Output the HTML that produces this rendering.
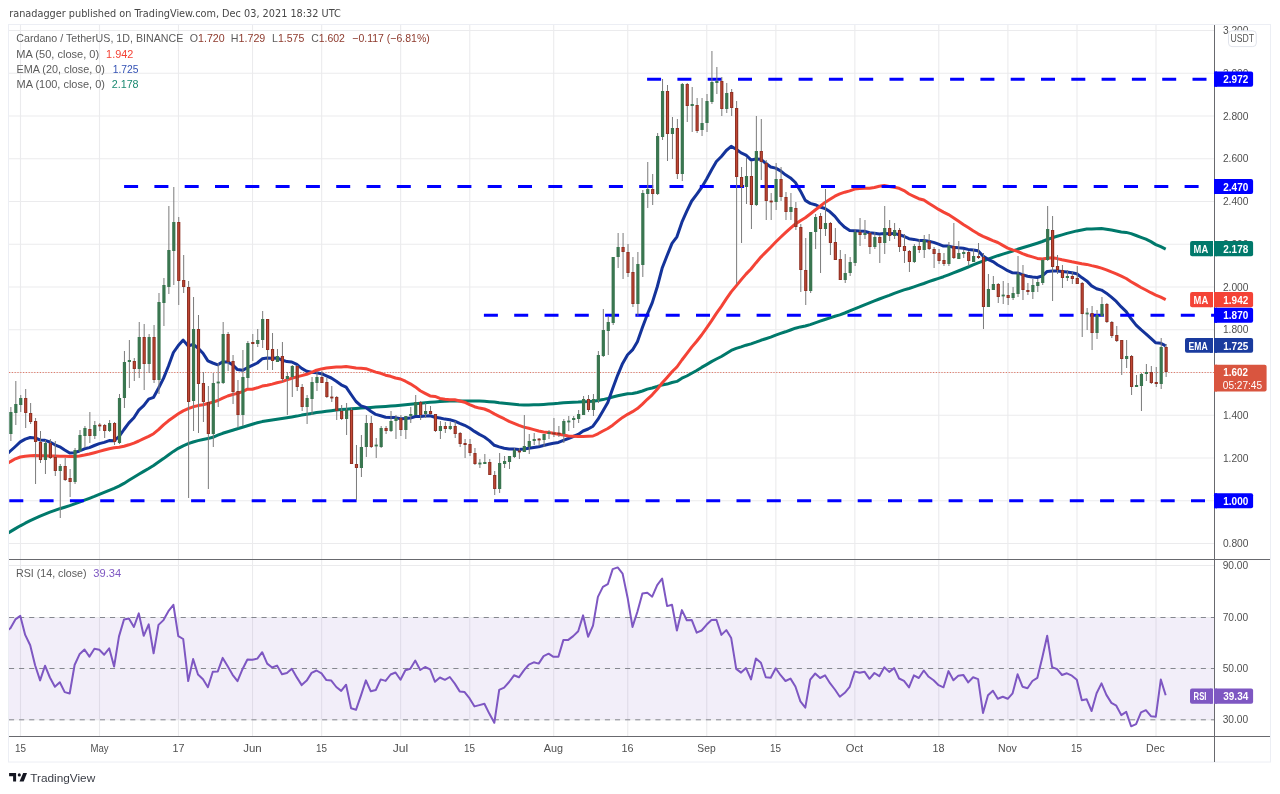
<!DOCTYPE html>
<html><head><meta charset="utf-8"><title>ADA/USDT chart</title>
<style>html,body{margin:0;padding:0;background:#fff}body{width:1280px;height:794px;position:relative;overflow:hidden}</style>
</head><body>
<svg width="1280" height="794" viewBox="0 0 1280 794" style="position:absolute;left:0;top:0;will-change:transform"><defs><clipPath id="cm"><rect x="9" y="25" width="1205" height="534"/></clipPath><clipPath id="cr"><rect x="9" y="560" width="1205" height="176"/></clipPath></defs><rect x="8.5" y="24.5" width="1262" height="737.5" fill="none" stroke="#eceef4" stroke-width="1"/><path d="M20.50,25V559M20.50,560V736M99.50,25V559M99.50,560V736M178.49,25V559M178.49,560V736M252.54,25V559M252.54,560V736M321.66,25V559M321.66,560V736M400.65,25V559M400.65,560V736M469.77,25V559M469.77,560V736M553.70,25V559M553.70,560V736M627.75,25V559M627.75,560V736M706.75,25V559M706.75,560V736M775.87,25V559M775.87,560V736M854.86,25V559M854.86,560V736M938.79,25V559M938.79,560V736M1007.90,25V559M1007.90,560V736M1077.02,25V559M1077.02,560V736M1156.01,25V559M1156.01,560V736M9,30.50H1214M9,73.25H1214M9,116.00H1214M9,158.75H1214M9,201.50H1214M9,244.25H1214M9,287.00H1214M9,329.75H1214M9,372.50H1214M9,415.25H1214M9,458.00H1214M9,500.75H1214M9,543.50H1214M9,565.5H1214" stroke="#ebebed" stroke-width="1.1" fill="none"/><g clip-path="url(#cm)"><path d="M9,372.5H1214" stroke="#e0604a" stroke-opacity="0.8" stroke-width="1" stroke-dasharray="1.2 1.6" fill="none"/><path d="M5.5,534.6 L10.4,531.6 L15.4,528.6 L20.3,525.8 L25.2,523.2 L30.2,520.7 L35.1,518.4 L40.1,516.2 L45.0,514.2 L49.9,512.2 L54.9,510.4 L59.8,508.7 L64.7,507.2 L69.7,505.6 L74.6,503.9 L79.5,502.1 L84.5,500.2 L89.4,498.3 L94.4,496.4 L99.3,494.4 L104.2,492.4 L109.2,490.3 L114.1,488.3 L119.0,486.1 L124.0,483.4 L128.9,480.3 L133.9,477.3 L138.8,474.3 L143.7,471.4 L148.7,468.5 L153.6,465.5 L158.5,462.1 L163.5,458.6 L168.4,455.0 L173.4,451.4 L178.3,448.3 L183.2,445.8 L188.2,443.6 L193.1,442.0 L198.0,440.6 L203.0,439.5 L207.9,438.6 L212.8,437.3 L217.8,435.2 L222.7,433.3 L227.7,431.7 L232.6,430.3 L237.5,428.8 L242.5,427.3 L247.4,425.8 L252.3,424.2 L257.3,422.8 L262.2,421.6 L267.2,420.7 L272.1,419.9 L277.0,419.2 L282.0,418.5 L286.9,417.8 L291.8,417.0 L296.8,416.1 L301.7,415.1 L306.7,414.2 L311.6,413.4 L316.5,412.6 L321.5,411.9 L326.4,411.3 L331.3,410.7 L336.3,410.1 L341.2,409.6 L346.1,409.2 L351.1,408.7 L356.0,408.4 L361.0,408.1 L365.9,407.8 L370.8,407.5 L375.8,407.1 L380.7,406.8 L385.6,406.5 L390.6,406.1 L395.5,405.7 L400.5,405.2 L405.4,404.7 L410.3,404.2 L415.3,403.7 L420.2,403.2 L425.1,402.7 L430.1,402.2 L435.0,401.9 L439.9,401.5 L444.9,401.2 L449.8,401.0 L454.8,401.0 L459.7,401.0 L464.6,401.0 L469.6,401.0 L474.5,401.0 L479.4,401.1 L484.4,401.3 L489.3,401.7 L494.3,402.0 L499.2,402.8 L504.1,403.3 L509.1,403.8 L514.0,404.3 L518.9,404.7 L523.9,404.9 L528.8,404.9 L533.8,404.7 L538.7,404.7 L543.6,404.4 L548.6,404.1 L553.5,403.7 L558.4,403.3 L563.4,402.7 L568.3,402.4 L573.2,402.2 L578.2,402.1 L583.1,401.7 L588.1,401.6 L593.0,401.3 L597.9,400.5 L602.9,399.6 L607.8,398.4 L612.7,397.0 L617.7,395.8 L622.6,394.8 L627.6,393.8 L632.5,393.5 L637.4,392.5 L642.4,391.0 L647.3,389.1 L652.2,388.0 L657.2,386.5 L662.1,384.9 L667.1,384.1 L672.0,382.5 L676.9,381.4 L681.9,378.2 L686.8,376.0 L691.7,373.2 L696.7,370.5 L701.6,367.4 L706.5,364.6 L711.5,361.6 L716.4,359.0 L721.4,356.5 L726.3,353.5 L731.2,350.4 L736.2,348.4 L741.1,346.9 L746.0,345.2 L751.0,343.9 L755.9,342.2 L760.9,340.3 L765.8,338.7 L770.7,337.1 L775.7,335.1 L780.6,333.4 L785.5,331.8 L790.5,330.0 L795.4,328.2 L800.4,326.9 L805.3,326.0 L810.2,324.6 L815.2,322.9 L820.1,321.2 L825.0,319.5 L830.0,317.8 L834.9,316.2 L839.8,314.9 L844.8,313.0 L849.7,310.9 L854.7,308.8 L859.6,306.9 L864.5,304.8 L869.5,302.8 L874.4,300.9 L879.3,299.0 L884.3,297.1 L889.2,295.3 L894.2,293.3 L899.1,291.6 L904.0,289.9 L909.0,288.5 L913.9,286.9 L918.8,285.2 L923.8,283.5 L928.7,281.7 L933.6,280.0 L938.6,278.3 L943.5,276.7 L948.5,274.8 L953.4,272.9 L958.3,271.0 L963.3,269.0 L968.2,267.0 L973.1,264.9 L978.1,262.9 L983.0,261.2 L988.0,259.2 L992.9,257.4 L997.8,255.7 L1002.8,254.1 L1007.7,252.6 L1012.6,251.0 L1017.6,249.3 L1022.5,247.8 L1027.5,246.3 L1032.4,244.8 L1037.3,243.2 L1042.3,241.5 L1047.2,239.5 L1052.1,237.8 L1057.1,236.3 L1062.0,234.9 L1066.9,233.4 L1071.9,232.1 L1076.8,230.9 L1081.8,230.0 L1086.7,229.1 L1091.6,228.9 L1096.6,228.8 L1101.5,228.6 L1106.4,229.2 L1111.4,230.1 L1116.3,231.0 L1121.3,231.9 L1126.2,232.4 L1131.1,233.6 L1136.1,235.5 L1141.0,237.4 L1145.9,239.2 L1150.9,241.6 L1155.8,244.6 L1160.8,246.7 L1165.7,249.1" stroke="#00796b" stroke-width="3" fill="none" stroke-linejoin="round"/><path d="M5.5,455.5 L10.4,451.0 L15.4,446.5 L20.3,441.9 L25.2,439.1 L30.2,437.5 L35.1,437.9 L40.1,440.0 L45.0,440.3 L49.9,442.0 L54.9,444.8 L59.8,446.8 L64.7,450.0 L69.7,453.0 L74.6,452.7 L79.5,451.0 L84.5,448.8 L89.4,447.6 L94.4,445.5 L99.3,443.6 L104.2,442.4 L109.2,440.6 L114.1,440.7 L119.0,436.6 L124.0,429.5 L128.9,422.9 L133.9,417.8 L138.8,410.1 L143.7,405.7 L148.7,399.1 L153.6,397.3 L158.5,388.2 L163.5,378.4 L168.4,366.2 L173.4,352.5 L178.3,345.6 L183.2,340.1 L188.2,346.0 L193.1,344.3 L198.0,348.1 L203.0,353.3 L207.9,360.9 L212.8,363.0 L217.8,364.8 L222.7,361.9 L227.7,361.9 L232.6,364.8 L237.5,369.6 L242.5,370.3 L247.4,367.7 L252.3,365.4 L257.3,363.0 L262.2,358.8 L267.2,358.0 L272.1,358.3 L277.0,358.0 L282.0,360.0 L286.9,361.6 L291.8,362.0 L296.8,364.4 L301.7,368.4 L306.7,371.2 L311.6,372.3 L316.5,372.7 L321.5,373.7 L326.4,375.9 L331.3,378.0 L336.3,381.2 L341.2,384.8 L346.1,387.2 L351.1,394.5 L356.0,401.5 L361.0,405.8 L365.9,407.5 L370.8,411.2 L375.8,414.4 L380.7,415.7 L385.6,417.2 L390.6,417.5 L395.5,417.6 L400.5,418.8 L405.4,418.5 L410.3,418.1 L415.3,416.5 L420.2,416.4 L425.1,415.9 L430.1,415.7 L435.0,417.2 L439.9,418.0 L444.9,419.1 L449.8,419.7 L454.8,421.1 L459.7,423.3 L464.6,425.3 L469.6,428.0 L474.5,431.4 L479.4,434.4 L484.4,437.0 L489.3,440.6 L494.3,445.3 L499.2,446.9 L504.1,448.3 L509.1,449.0 L514.0,449.1 L518.9,449.4 L523.9,449.1 L528.8,448.3 L533.8,447.4 L538.7,446.7 L543.6,445.5 L548.6,444.2 L553.5,443.2 L558.4,442.4 L563.4,440.3 L568.3,438.5 L573.2,436.5 L578.2,434.4 L583.1,431.0 L588.1,429.0 L593.0,426.2 L597.9,419.4 L602.9,410.9 L607.8,402.4 L612.7,388.6 L617.7,375.1 L622.6,363.4 L627.6,354.7 L632.5,349.9 L637.4,341.7 L642.4,327.6 L647.3,314.4 L652.2,302.9 L657.2,287.0 L662.1,268.3 L667.1,255.5 L672.0,243.4 L676.9,236.8 L681.9,222.2 L686.8,211.2 L691.7,201.0 L696.7,194.3 L701.6,187.5 L706.5,179.3 L711.5,170.0 L716.4,161.5 L721.4,156.5 L726.3,150.5 L731.2,146.4 L736.2,149.3 L741.1,152.9 L746.0,155.1 L751.0,159.9 L755.9,159.0 L760.9,159.3 L765.8,163.3 L770.7,167.0 L775.7,168.1 L780.6,170.9 L785.5,174.8 L790.5,177.9 L795.4,182.5 L800.4,190.9 L805.3,200.4 L810.2,203.4 L815.2,204.7 L820.1,207.0 L825.0,208.5 L830.0,211.8 L834.9,216.4 L839.8,222.5 L844.8,227.3 L849.7,230.6 L854.7,230.7 L859.6,231.1 L864.5,231.3 L869.5,232.8 L874.4,233.2 L879.3,234.1 L884.3,233.6 L889.2,233.8 L894.2,233.4 L899.1,234.7 L904.0,236.3 L909.0,238.7 L913.9,239.4 L918.8,240.4 L923.8,240.4 L928.7,241.2 L933.6,242.4 L938.6,244.2 L943.5,246.1 L948.5,246.1 L953.4,247.2 L958.3,247.8 L963.3,248.2 L968.2,249.4 L973.1,250.0 L978.1,250.8 L983.0,256.1 L988.0,259.3 L992.9,261.6 L997.8,265.0 L1002.8,267.8 L1007.7,270.7 L1012.6,272.8 L1017.6,272.9 L1022.5,274.6 L1027.5,276.2 L1032.4,277.1 L1037.3,277.5 L1042.3,275.9 L1047.2,271.4 L1052.1,271.0 L1057.1,270.9 L1062.0,271.6 L1066.9,272.0 L1071.9,272.7 L1076.8,273.7 L1081.8,277.6 L1086.7,280.9 L1091.6,285.9 L1096.6,288.7 L1101.5,290.1 L1106.4,293.2 L1111.4,297.2 L1116.3,301.4 L1121.3,306.9 L1126.2,311.6 L1131.1,318.8 L1136.1,325.1 L1141.0,329.7 L1145.9,333.8 L1150.9,338.4 L1155.8,342.8 L1160.8,343.2 L1165.7,345.9" stroke="#14339a" stroke-width="3" fill="none" stroke-linejoin="round"/><path d="M5.5,464.7 L10.4,461.6 L15.4,458.8 L20.3,457.0 L25.2,456.3 L30.2,455.8 L35.1,455.6 L40.1,455.7 L45.0,455.8 L49.9,456.0 L54.9,456.1 L59.8,456.2 L64.7,456.3 L69.7,456.4 L74.6,456.4 L79.5,455.9 L84.5,455.0 L89.4,454.0 L94.4,452.7 L99.3,451.4 L104.2,450.0 L109.2,448.7 L114.1,447.7 L119.0,447.2 L124.0,446.3 L128.9,444.8 L133.9,443.1 L138.8,441.0 L143.7,438.6 L148.7,436.3 L153.6,433.7 L158.5,429.7 L163.5,424.9 L168.4,420.8 L173.4,417.2 L178.3,413.8 L183.2,410.9 L188.2,408.6 L193.1,406.8 L198.0,405.6 L203.0,404.7 L207.9,403.5 L212.8,402.1 L217.8,400.5 L222.7,398.2 L227.7,396.0 L232.6,394.5 L237.5,393.4 L242.5,391.7 L247.4,389.2 L252.3,389.3 L257.3,387.8 L262.2,386.1 L267.2,385.2 L272.1,384.1 L277.0,382.8 L282.0,381.6 L286.9,379.9 L291.8,378.3 L296.8,376.9 L301.7,375.6 L306.7,374.3 L311.6,372.3 L316.5,370.2 L321.5,368.9 L326.4,368.1 L331.3,367.5 L336.3,367.0 L341.2,366.9 L346.1,366.6 L351.1,367.2 L356.0,368.1 L361.0,368.2 L365.9,368.7 L370.8,370.4 L375.8,372.1 L380.7,373.3 L385.6,375.2 L390.6,376.3 L395.5,378.0 L400.5,379.0 L405.4,381.2 L410.3,383.8 L415.3,386.9 L420.2,390.7 L425.1,393.3 L430.1,395.9 L435.0,396.4 L439.9,398.4 L444.9,399.3 L449.8,399.8 L454.8,399.8 L459.7,401.0 L464.6,402.2 L469.6,404.6 L474.5,406.7 L479.4,408.1 L484.4,409.0 L489.3,411.0 L494.3,413.9 L499.2,416.3 L504.1,418.7 L509.1,421.4 L514.0,423.4 L518.9,425.3 L523.9,427.1 L528.8,428.3 L533.8,429.6 L538.7,431.0 L543.6,432.0 L548.6,432.5 L553.5,433.2 L558.4,434.2 L563.4,435.1 L568.3,435.9 L573.2,436.3 L578.2,436.6 L583.1,436.4 L588.1,436.2 L593.0,436.0 L597.9,433.8 L602.9,431.0 L607.8,428.5 L612.7,425.2 L617.7,421.2 L622.6,417.4 L627.6,414.3 L632.5,411.7 L637.4,408.6 L642.4,404.1 L647.3,399.3 L652.2,394.8 L657.2,389.3 L662.1,383.0 L667.1,377.4 L672.0,371.8 L676.9,367.0 L681.9,360.0 L686.8,353.6 L691.7,347.1 L696.7,341.2 L701.6,335.0 L706.5,328.1 L711.5,320.9 L716.4,313.4 L721.4,306.3 L726.3,298.9 L731.2,291.9 L736.2,285.9 L741.1,279.9 L746.0,274.1 L751.0,269.0 L755.9,262.9 L760.9,257.1 L765.8,252.1 L770.7,247.2 L775.7,242.0 L780.6,237.2 L785.5,232.6 L790.5,228.1 L795.4,224.0 L800.4,220.7 L805.3,217.8 L810.2,214.0 L815.2,210.0 L820.1,206.2 L825.0,202.4 L830.0,199.2 L834.9,196.2 L839.8,193.9 L844.8,192.2 L849.7,190.9 L854.7,189.1 L859.6,188.6 L864.5,188.3 L869.5,188.2 L874.4,187.5 L879.3,186.3 L884.3,185.6 L889.2,186.4 L894.2,187.3 L899.1,188.3 L904.0,190.6 L909.0,194.0 L913.9,196.3 L918.8,198.7 L923.8,200.0 L928.7,203.3 L933.6,206.3 L938.6,209.4 L943.5,212.1 L948.5,214.6 L953.4,217.7 L958.3,221.1 L963.3,224.5 L968.2,227.6 L973.1,230.8 L978.1,233.8 L983.0,236.4 L988.0,238.5 L992.9,240.6 L997.8,242.5 L1002.8,245.4 L1007.7,248.1 L1012.6,249.9 L1017.6,251.4 L1022.5,253.6 L1027.5,255.5 L1032.4,256.9 L1037.3,258.4 L1042.3,259.1 L1047.2,258.3 L1052.1,257.8 L1057.1,258.6 L1062.0,259.8 L1066.9,260.7 L1071.9,261.8 L1076.8,262.7 L1081.8,263.7 L1086.7,264.4 L1091.6,265.6 L1096.6,266.7 L1101.5,268.1 L1106.4,269.8 L1111.4,271.9 L1116.3,273.8 L1121.3,276.2 L1126.2,278.5 L1131.1,281.7 L1136.1,284.6 L1141.0,287.5 L1145.9,290.0 L1150.9,292.7 L1155.8,295.1 L1160.8,297.1 L1165.7,299.6" stroke="#f44336" stroke-width="3" fill="none" stroke-linejoin="round"/><path d="M647.1,79.3H1214" stroke="#0000ff" stroke-width="3" stroke-dasharray="14 16.3" fill="none"/><path d="M124.1,186.6H1214" stroke="#0000ff" stroke-width="3" stroke-dasharray="14 16.3" fill="none"/><path d="M483.9,315.3H1214" stroke="#0000ff" stroke-width="3" stroke-dasharray="14 16.3" fill="none"/><path d="M-21.0,500.8H1214" stroke="#0000ff" stroke-width="3" stroke-dasharray="14 16.3" fill="none"/><path d="M10.88,407.0V441.0M15.82,381.0V425.0M20.75,395.0V412.0M25.69,389.0V428.0M30.63,403.0V424.0M35.57,418.0V484.0M40.50,431.0V463.0M45.44,440.0V474.0M50.38,439.0V459.0M55.31,441.0V476.0M60.25,464.0V518.0M65.19,458.0V481.0M70.12,469.0V497.0M75.06,448.0V484.0M80.00,430.0V452.0M84.94,426.0V448.0M89.87,412.0V443.0M94.81,421.0V439.0M99.75,423.0V431.0M104.68,424.0V438.0M109.62,420.0V432.0M114.56,422.0V445.0M119.49,394.0V444.0M124.43,351.0V408.0M129.37,340.0V388.0M134.31,358.0V381.0M139.24,322.0V378.0M144.18,324.0V390.0M149.12,334.0V373.0M154.05,325.0V383.0M158.99,293.0V394.0M163.93,278.0V326.0M168.86,206.0V294.0M173.80,187.0V285.0M178.74,217.0V305.0M183.68,255.0V293.0M188.61,281.0V498.0M193.55,297.0V431.0M198.49,315.0V433.0M203.42,372.0V422.0M208.36,386.0V489.0M213.30,373.0V447.0M218.23,363.0V407.0M223.17,322.0V384.0M228.11,332.0V371.0M233.05,355.0V404.0M237.98,380.0V428.0M242.92,350.0V426.0M247.86,341.0V388.0M252.79,334.0V361.0M257.73,329.0V347.0M262.67,311.0V348.0M267.60,319.0V370.0M272.54,333.0V370.0M277.48,349.0V362.0M282.42,342.0V382.0M287.35,372.0V415.0M292.29,365.0V397.0M297.23,365.0V391.0M302.16,384.0V411.0M307.10,395.0V424.0M312.04,377.0V415.0M316.97,372.0V391.0M321.91,371.0V383.0M326.85,378.0V398.0M331.79,386.0V402.0M336.72,396.0V420.0M341.66,405.0V420.0M346.60,403.0V435.0M351.53,407.0V464.0M356.47,445.0V500.0M361.41,435.0V477.0M366.34,415.0V457.0M371.28,416.0V448.0M376.22,438.0V458.0M381.16,426.0V448.0M386.09,426.0V434.0M391.03,411.0V432.0M395.97,415.0V439.0M400.90,415.0V436.0M405.84,416.0V439.0M410.78,407.0V423.0M415.71,395.0V415.0M420.65,401.0V420.0M425.59,403.0V418.0M430.53,406.0V415.0M435.46,414.0V432.0M440.40,421.0V439.0M445.34,422.0V433.0M450.27,422.0V430.0M455.21,421.0V438.0M460.15,432.0V447.0M465.08,439.0V458.0M470.02,439.0V456.0M474.96,448.0V465.0M479.90,459.0V468.0M484.83,454.0V464.0M489.77,459.0V475.0M494.71,471.0V495.0M499.64,453.0V493.0M504.58,456.0V468.0M509.52,456.0V469.0M514.45,448.0V458.0M519.39,448.0V459.0M524.33,415.0V452.0M529.26,434.0V454.0M534.20,433.0V445.0M539.14,438.0V446.0M544.08,434.0V447.0M549.01,430.0V439.0M553.95,418.0V437.0M558.89,426.0V437.0M563.82,419.0V443.0M568.76,416.0V431.0M573.70,416.0V428.0M578.63,410.0V423.0M583.57,396.0V415.0M588.51,395.0V412.0M593.45,394.0V416.0M598.38,351.0V403.0M603.32,309.0V357.0M608.26,316.0V355.0M613.19,257.0V325.0M618.13,233.0V268.0M623.07,233.0V279.0M628.00,244.0V277.0M632.94,257.0V307.0M637.88,252.0V316.0M642.82,190.0V277.0M647.75,162.0V208.0M652.69,174.0V205.0M657.63,133.0V195.0M662.56,79.0V140.0M667.50,85.0V161.0M672.44,117.0V159.0M677.38,119.0V179.0M682.31,83.0V181.0M687.25,83.0V122.0M692.19,87.0V132.0M697.12,98.0V133.0M702.06,98.0V136.0M707.00,94.0V132.0M711.93,51.0V104.0M716.87,67.0V94.0M721.81,77.0V116.0M726.75,83.0V113.0M731.68,89.0V116.0M736.62,101.0V284.0M741.56,167.0V243.0M746.49,158.0V204.0M751.43,161.0V229.0M756.37,116.0V206.0M761.30,119.0V180.0M766.24,160.0V220.0M771.18,193.0V220.0M776.12,163.0V210.0M781.05,167.0V201.0M785.99,192.0V220.0M790.93,193.0V220.0M795.86,202.0V230.0M800.80,224.0V292.0M805.74,238.0V305.0M810.67,232.0V293.0M815.61,214.0V249.0M820.55,213.0V273.0M825.49,189.0V236.0M830.42,222.0V255.0M835.36,228.0V260.0M840.30,250.0V280.0M845.23,254.0V283.0M850.17,257.0V276.0M855.11,229.0V266.0M860.04,218.0V246.0M864.98,220.0V239.0M869.92,232.0V254.0M874.86,232.0V249.0M879.79,235.0V263.0M884.73,206.0V254.0M889.67,220.0V241.0M894.60,223.0V239.0M899.54,228.0V252.0M904.48,234.0V263.0M909.41,250.0V272.0M914.35,244.0V263.0M919.29,239.0V253.0M924.23,235.0V258.0M929.16,234.0V250.0M934.10,247.0V268.0M939.04,249.0V264.0M943.97,253.0V266.0M948.91,242.0V266.0M953.85,223.0V259.0M958.78,241.0V259.0M963.72,250.0V258.0M968.66,251.0V266.0M973.60,249.0V262.0M978.53,243.0V259.0M983.47,253.0V329.0M988.41,274.0V307.0M993.34,276.0V290.0M998.28,283.0V303.0M1003.22,281.0V304.0M1008.15,283.0V305.0M1013.09,287.0V300.0M1018.03,256.0V297.0M1022.97,265.0V300.0M1027.90,283.0V295.0M1032.84,279.0V299.0M1037.78,279.0V292.0M1042.71,258.0V285.0M1047.65,206.0V261.0M1052.59,216.0V301.0M1057.52,255.0V274.0M1062.46,265.0V288.0M1067.40,270.0V281.0M1072.34,272.0V284.0M1077.27,266.0V284.0M1082.21,282.0V337.0M1087.15,308.0V330.0M1092.08,306.0V350.0M1097.02,310.0V339.0M1101.96,297.0V317.0M1106.89,303.0V323.0M1111.83,321.0V338.0M1116.77,326.0V342.0M1121.71,340.0V375.0M1126.64,340.0V368.0M1131.58,355.0V395.0M1136.52,375.0V387.0M1141.45,373.0V411.0M1146.39,364.0V381.0M1151.33,366.0V384.0M1156.26,367.0V387.0M1161.20,338.0V389.0M1166.14,344.0V377.0" stroke="#7b7b7b" stroke-width="1" fill="none"/><g fill="#3a7650"><rect x="9.28" y="412.0" width="3.2" height="22.0"/><rect x="14.22" y="404.0" width="3.2" height="9.0"/><rect x="19.15" y="398.0" width="3.2" height="7.0"/><rect x="43.84" y="443.0" width="3.2" height="17.0"/><rect x="58.65" y="466.0" width="3.2" height="5.0"/><rect x="73.46" y="450.0" width="3.2" height="32.0"/><rect x="78.40" y="435.0" width="3.2" height="16.0"/><rect x="83.34" y="428.0" width="3.2" height="8.0"/><rect x="93.21" y="425.0" width="3.2" height="11.0"/><rect x="108.02" y="423.0" width="3.2" height="8.0"/><rect x="117.89" y="398.0" width="3.2" height="45.0"/><rect x="122.83" y="362.0" width="3.2" height="36.0"/><rect x="127.77" y="360.0" width="3.2" height="2.0"/><rect x="137.64" y="337.0" width="3.2" height="32.0"/><rect x="147.52" y="337.0" width="3.2" height="27.0"/><rect x="157.39" y="302.0" width="3.2" height="78.0"/><rect x="162.33" y="285.0" width="3.2" height="18.0"/><rect x="167.26" y="250.0" width="3.2" height="37.0"/><rect x="172.20" y="222.0" width="3.2" height="29.0"/><rect x="191.95" y="329.0" width="3.2" height="72.0"/><rect x="211.70" y="383.0" width="3.2" height="51.0"/><rect x="216.63" y="381.6" width="3.2" height="1.8"/><rect x="221.57" y="334.0" width="3.2" height="49.0"/><rect x="241.32" y="377.0" width="3.2" height="38.0"/><rect x="246.26" y="343.0" width="3.2" height="35.0"/><rect x="256.13" y="340.0" width="3.2" height="4.0"/><rect x="261.07" y="319.0" width="3.2" height="21.0"/><rect x="275.88" y="356.0" width="3.2" height="6.0"/><rect x="285.75" y="376.0" width="3.2" height="3.0"/><rect x="290.69" y="366.0" width="3.2" height="11.0"/><rect x="305.50" y="398.0" width="3.2" height="9.0"/><rect x="310.44" y="382.0" width="3.2" height="17.0"/><rect x="315.37" y="377.0" width="3.2" height="6.0"/><rect x="345.00" y="410.0" width="3.2" height="9.0"/><rect x="359.81" y="447.0" width="3.2" height="21.0"/><rect x="364.74" y="423.0" width="3.2" height="24.0"/><rect x="374.62" y="444.6" width="3.2" height="1.8"/><rect x="379.56" y="428.0" width="3.2" height="19.0"/><rect x="389.43" y="421.0" width="3.2" height="10.0"/><rect x="394.37" y="418.0" width="3.2" height="3.0"/><rect x="404.24" y="416.0" width="3.2" height="14.0"/><rect x="409.18" y="414.0" width="3.2" height="2.0"/><rect x="414.11" y="402.0" width="3.2" height="13.0"/><rect x="423.99" y="411.0" width="3.2" height="3.0"/><rect x="438.80" y="426.0" width="3.2" height="5.0"/><rect x="448.67" y="426.0" width="3.2" height="3.0"/><rect x="478.30" y="462.6" width="3.2" height="1.8"/><rect x="483.23" y="462.0" width="3.2" height="2.0"/><rect x="498.04" y="463.0" width="3.2" height="26.0"/><rect x="502.98" y="461.0" width="3.2" height="3.0"/><rect x="507.92" y="456.0" width="3.2" height="6.0"/><rect x="512.85" y="450.0" width="3.2" height="7.0"/><rect x="522.73" y="446.0" width="3.2" height="6.0"/><rect x="527.66" y="441.0" width="3.2" height="6.0"/><rect x="532.60" y="439.0" width="3.2" height="2.0"/><rect x="542.48" y="434.0" width="3.2" height="6.0"/><rect x="547.41" y="432.0" width="3.2" height="2.0"/><rect x="562.22" y="421.0" width="3.2" height="13.0"/><rect x="567.16" y="420.6" width="3.2" height="1.8"/><rect x="572.10" y="418.0" width="3.2" height="2.0"/><rect x="577.03" y="414.0" width="3.2" height="5.0"/><rect x="581.97" y="399.0" width="3.2" height="16.0"/><rect x="591.85" y="399.0" width="3.2" height="11.0"/><rect x="596.78" y="355.0" width="3.2" height="45.0"/><rect x="601.72" y="330.0" width="3.2" height="26.0"/><rect x="606.66" y="322.0" width="3.2" height="9.0"/><rect x="611.59" y="257.0" width="3.2" height="66.0"/><rect x="616.53" y="247.0" width="3.2" height="10.0"/><rect x="636.28" y="264.0" width="3.2" height="40.0"/><rect x="641.22" y="193.0" width="3.2" height="72.0"/><rect x="646.15" y="189.0" width="3.2" height="5.0"/><rect x="656.03" y="136.0" width="3.2" height="58.0"/><rect x="660.96" y="91.0" width="3.2" height="46.0"/><rect x="670.84" y="128.0" width="3.2" height="6.0"/><rect x="680.71" y="84.0" width="3.2" height="90.0"/><rect x="690.59" y="104.0" width="3.2" height="2.0"/><rect x="700.46" y="123.0" width="3.2" height="7.0"/><rect x="705.40" y="101.0" width="3.2" height="22.0"/><rect x="710.33" y="82.0" width="3.2" height="20.0"/><rect x="715.27" y="81.0" width="3.2" height="2.0"/><rect x="725.14" y="93.0" width="3.2" height="16.0"/><rect x="744.89" y="176.0" width="3.2" height="11.0"/><rect x="754.77" y="151.0" width="3.2" height="54.0"/><rect x="774.51" y="179.0" width="3.2" height="23.0"/><rect x="789.33" y="207.0" width="3.2" height="5.0"/><rect x="809.07" y="232.0" width="3.2" height="59.0"/><rect x="814.01" y="217.0" width="3.2" height="15.0"/><rect x="823.88" y="223.0" width="3.2" height="6.0"/><rect x="843.63" y="273.0" width="3.2" height="7.0"/><rect x="848.57" y="262.0" width="3.2" height="11.0"/><rect x="853.51" y="232.0" width="3.2" height="31.0"/><rect x="863.38" y="233.0" width="3.2" height="2.0"/><rect x="873.25" y="237.0" width="3.2" height="10.0"/><rect x="883.13" y="228.0" width="3.2" height="15.0"/><rect x="893.00" y="230.0" width="3.2" height="6.0"/><rect x="912.75" y="246.0" width="3.2" height="16.0"/><rect x="922.62" y="240.0" width="3.2" height="10.0"/><rect x="947.31" y="246.0" width="3.2" height="18.0"/><rect x="957.18" y="253.0" width="3.2" height="6.0"/><rect x="962.12" y="252.0" width="3.2" height="2.0"/><rect x="972.00" y="256.0" width="3.2" height="6.0"/><rect x="986.81" y="289.0" width="3.2" height="18.0"/><rect x="991.74" y="284.0" width="3.2" height="6.0"/><rect x="1001.62" y="294.6" width="3.2" height="1.8"/><rect x="1011.49" y="293.0" width="3.2" height="5.0"/><rect x="1016.43" y="274.0" width="3.2" height="20.0"/><rect x="1031.24" y="285.0" width="3.2" height="7.0"/><rect x="1036.18" y="282.0" width="3.2" height="4.0"/><rect x="1041.11" y="260.0" width="3.2" height="23.0"/><rect x="1046.05" y="229.0" width="3.2" height="31.0"/><rect x="1065.80" y="276.0" width="3.2" height="2.0"/><rect x="1085.55" y="312.6" width="3.2" height="1.8"/><rect x="1095.42" y="315.0" width="3.2" height="18.0"/><rect x="1100.36" y="304.0" width="3.2" height="12.0"/><rect x="1125.04" y="356.0" width="3.2" height="3.0"/><rect x="1134.92" y="385.0" width="3.2" height="2.0"/><rect x="1139.85" y="374.0" width="3.2" height="12.0"/><rect x="1144.79" y="372.0" width="3.2" height="2.0"/><rect x="1159.60" y="347.0" width="3.2" height="37.0"/></g><g fill="#8e2f22"><rect x="24.09" y="398.0" width="3.2" height="15.0"/><rect x="29.03" y="413.0" width="3.2" height="9.0"/><rect x="33.97" y="421.0" width="3.2" height="21.0"/><rect x="38.90" y="442.0" width="3.2" height="18.0"/><rect x="48.78" y="443.0" width="3.2" height="15.0"/><rect x="53.71" y="457.0" width="3.2" height="14.0"/><rect x="63.59" y="466.0" width="3.2" height="14.0"/><rect x="68.52" y="478.0" width="3.2" height="4.0"/><rect x="88.27" y="429.0" width="3.2" height="7.0"/><rect x="98.15" y="424.6" width="3.2" height="1.8"/><rect x="103.08" y="425.0" width="3.2" height="6.0"/><rect x="112.96" y="423.0" width="3.2" height="19.0"/><rect x="132.71" y="361.0" width="3.2" height="8.0"/><rect x="142.58" y="337.0" width="3.2" height="27.0"/><rect x="152.45" y="337.0" width="3.2" height="43.0"/><rect x="177.14" y="222.0" width="3.2" height="59.0"/><rect x="182.08" y="280.0" width="3.2" height="7.0"/><rect x="187.01" y="287.0" width="3.2" height="115.0"/><rect x="196.89" y="329.0" width="3.2" height="55.0"/><rect x="201.82" y="383.0" width="3.2" height="19.0"/><rect x="206.76" y="402.0" width="3.2" height="32.0"/><rect x="226.51" y="334.0" width="3.2" height="28.0"/><rect x="231.45" y="361.0" width="3.2" height="31.0"/><rect x="236.38" y="391.0" width="3.2" height="24.0"/><rect x="251.19" y="342.0" width="3.2" height="2.0"/><rect x="266.00" y="319.0" width="3.2" height="31.0"/><rect x="270.94" y="349.0" width="3.2" height="12.0"/><rect x="280.81" y="356.0" width="3.2" height="23.0"/><rect x="295.63" y="366.0" width="3.2" height="21.0"/><rect x="300.56" y="387.0" width="3.2" height="20.0"/><rect x="320.31" y="377.0" width="3.2" height="6.0"/><rect x="325.25" y="382.0" width="3.2" height="15.0"/><rect x="330.19" y="396.6" width="3.2" height="1.8"/><rect x="335.12" y="397.0" width="3.2" height="14.0"/><rect x="340.06" y="411.0" width="3.2" height="8.0"/><rect x="349.93" y="410.0" width="3.2" height="54.0"/><rect x="354.87" y="464.0" width="3.2" height="4.0"/><rect x="369.68" y="423.0" width="3.2" height="24.0"/><rect x="384.49" y="428.0" width="3.2" height="3.0"/><rect x="399.30" y="418.0" width="3.2" height="12.0"/><rect x="419.05" y="402.0" width="3.2" height="13.0"/><rect x="428.93" y="411.0" width="3.2" height="3.0"/><rect x="433.86" y="414.0" width="3.2" height="17.0"/><rect x="443.74" y="426.0" width="3.2" height="3.0"/><rect x="453.61" y="426.0" width="3.2" height="8.0"/><rect x="458.55" y="433.0" width="3.2" height="11.0"/><rect x="463.48" y="443.0" width="3.2" height="2.0"/><rect x="468.42" y="444.0" width="3.2" height="9.0"/><rect x="473.36" y="453.0" width="3.2" height="11.0"/><rect x="488.17" y="462.0" width="3.2" height="13.0"/><rect x="493.11" y="475.0" width="3.2" height="14.0"/><rect x="517.79" y="450.6" width="3.2" height="1.8"/><rect x="537.54" y="438.6" width="3.2" height="1.8"/><rect x="552.35" y="432.6" width="3.2" height="1.8"/><rect x="557.29" y="432.6" width="3.2" height="1.8"/><rect x="586.91" y="399.0" width="3.2" height="11.0"/><rect x="621.47" y="247.0" width="3.2" height="5.0"/><rect x="626.40" y="252.0" width="3.2" height="21.0"/><rect x="631.34" y="272.0" width="3.2" height="32.0"/><rect x="651.09" y="189.0" width="3.2" height="5.0"/><rect x="665.90" y="91.0" width="3.2" height="43.0"/><rect x="675.77" y="128.0" width="3.2" height="46.0"/><rect x="685.65" y="84.0" width="3.2" height="22.0"/><rect x="695.52" y="105.0" width="3.2" height="26.0"/><rect x="720.21" y="81.0" width="3.2" height="28.0"/><rect x="730.08" y="92.0" width="3.2" height="16.0"/><rect x="735.02" y="108.0" width="3.2" height="69.0"/><rect x="739.96" y="177.0" width="3.2" height="10.0"/><rect x="749.83" y="176.0" width="3.2" height="29.0"/><rect x="759.70" y="151.0" width="3.2" height="11.0"/><rect x="764.64" y="163.0" width="3.2" height="38.0"/><rect x="769.58" y="200.6" width="3.2" height="1.8"/><rect x="779.45" y="179.0" width="3.2" height="18.0"/><rect x="784.39" y="197.0" width="3.2" height="15.0"/><rect x="794.26" y="208.0" width="3.2" height="19.0"/><rect x="799.20" y="227.0" width="3.2" height="43.0"/><rect x="804.14" y="270.0" width="3.2" height="21.0"/><rect x="818.95" y="216.0" width="3.2" height="13.0"/><rect x="828.82" y="223.0" width="3.2" height="20.0"/><rect x="833.76" y="242.0" width="3.2" height="18.0"/><rect x="838.70" y="259.0" width="3.2" height="21.0"/><rect x="858.44" y="232.0" width="3.2" height="3.0"/><rect x="868.32" y="233.0" width="3.2" height="14.0"/><rect x="878.19" y="237.0" width="3.2" height="6.0"/><rect x="888.07" y="228.0" width="3.2" height="8.0"/><rect x="897.94" y="230.0" width="3.2" height="17.0"/><rect x="902.88" y="246.0" width="3.2" height="5.0"/><rect x="907.81" y="251.0" width="3.2" height="11.0"/><rect x="917.69" y="246.0" width="3.2" height="4.0"/><rect x="927.56" y="241.0" width="3.2" height="8.0"/><rect x="932.50" y="249.0" width="3.2" height="5.0"/><rect x="937.44" y="253.0" width="3.2" height="8.0"/><rect x="942.37" y="260.0" width="3.2" height="4.0"/><rect x="952.25" y="246.0" width="3.2" height="12.0"/><rect x="967.06" y="252.0" width="3.2" height="9.0"/><rect x="976.93" y="256.0" width="3.2" height="2.0"/><rect x="981.87" y="257.0" width="3.2" height="50.0"/><rect x="996.68" y="284.0" width="3.2" height="13.0"/><rect x="1006.55" y="295.0" width="3.2" height="3.0"/><rect x="1021.37" y="274.0" width="3.2" height="16.0"/><rect x="1026.30" y="290.0" width="3.2" height="2.0"/><rect x="1050.99" y="230.0" width="3.2" height="37.0"/><rect x="1055.92" y="266.0" width="3.2" height="4.0"/><rect x="1060.86" y="270.0" width="3.2" height="8.0"/><rect x="1070.74" y="276.0" width="3.2" height="3.0"/><rect x="1075.67" y="278.0" width="3.2" height="6.0"/><rect x="1080.61" y="283.0" width="3.2" height="31.0"/><rect x="1090.48" y="313.0" width="3.2" height="20.0"/><rect x="1105.29" y="304.0" width="3.2" height="18.0"/><rect x="1110.23" y="322.0" width="3.2" height="14.0"/><rect x="1115.17" y="335.0" width="3.2" height="6.0"/><rect x="1120.11" y="340.0" width="3.2" height="19.0"/><rect x="1129.98" y="356.0" width="3.2" height="31.0"/><rect x="1149.73" y="372.0" width="3.2" height="11.0"/><rect x="1154.66" y="382.0" width="3.2" height="2.0"/><rect x="1164.54" y="347.0" width="3.2" height="25.0"/></g><path d="M25.69,398.8V412.2M30.63,413.8V421.2M35.57,421.8V441.2M40.50,442.8V459.2M50.38,443.8V457.2M55.31,457.8V470.2M65.19,466.8V479.2M70.12,478.8V481.2M89.87,429.8V435.2M104.68,425.8V430.2M114.56,423.8V441.2M134.31,361.8V368.2M144.18,337.8V363.2M154.05,337.8V379.2M178.74,222.8V280.2M183.68,280.8V286.2M188.61,287.8V401.2M198.49,329.8V383.2M203.42,383.8V401.2M208.36,402.8V433.2M228.11,334.8V361.2M233.05,361.8V391.2M237.98,391.8V414.2M267.60,319.8V349.2M272.54,349.8V360.2M282.42,356.8V378.2M297.23,366.8V386.2M302.16,387.8V406.2M321.91,377.8V382.2M326.85,382.8V396.2M336.72,397.8V410.2M341.66,411.8V418.2M351.53,410.8V463.2M356.47,464.8V467.2M371.28,423.8V446.2M386.09,428.8V430.2M400.90,418.8V429.2M420.65,402.8V414.2M430.53,411.8V413.2M435.46,414.8V430.2M445.34,426.8V428.2M455.21,426.8V433.2M460.15,433.8V443.2M470.02,444.8V452.2M474.96,453.8V463.2M489.77,462.8V474.2M494.71,475.8V488.2M588.51,399.8V409.2M623.07,247.8V251.2M628.00,252.8V272.2M632.94,272.8V303.2M652.69,189.8V193.2M667.50,91.8V133.2M677.38,128.8V173.2M687.25,84.8V105.2M697.12,105.8V130.2M721.81,81.8V108.2M731.68,92.8V107.2M736.62,108.8V176.2M741.56,177.8V186.2M751.43,176.8V204.2M761.30,151.8V161.2M766.24,163.8V200.2M781.05,179.8V196.2M785.99,197.8V211.2M795.86,208.8V226.2M800.80,227.8V269.2M805.74,270.8V290.2M820.55,216.8V228.2M830.42,223.8V242.2M835.36,242.8V259.2M840.30,259.8V279.2M860.04,232.8V234.2M869.92,233.8V246.2M879.79,237.8V242.2M889.67,228.8V235.2M899.54,230.8V246.2M904.48,246.8V250.2M909.41,251.8V261.2M919.29,246.8V249.2M929.16,241.8V248.2M934.10,249.8V253.2M939.04,253.8V260.2M943.97,260.8V263.2M953.85,246.8V257.2M968.66,252.8V260.2M983.47,257.8V306.2M998.28,284.8V296.2M1008.15,295.8V297.2M1022.97,274.8V289.2M1052.59,230.8V266.2M1057.52,266.8V269.2M1062.46,270.8V277.2M1072.34,276.8V278.2M1077.27,278.8V283.2M1082.21,283.8V313.2M1092.08,313.8V332.2M1106.89,304.8V321.2M1111.83,322.8V335.2M1116.77,335.8V340.2M1121.71,340.8V358.2M1131.58,356.8V386.2M1151.33,372.8V382.2M1166.14,347.8V371.2" stroke="#c54a36" stroke-width="1" fill="none"/></g><g clip-path="url(#cr)"><rect x="9" y="617.5" width="1205" height="102.3" fill="#7e57c2" fill-opacity="0.1"/><path d="M9,617.5H1214" stroke="#ebebee" stroke-width="1" fill="none"/><path d="M9,617.5H1214" stroke="#85878f" stroke-width="1" stroke-dasharray="5.1 5" fill="none"/><path d="M9,668.5H1214" stroke="#ebebee" stroke-width="1" fill="none"/><path d="M9,668.5H1214" stroke="#85878f" stroke-width="1" stroke-dasharray="5.1 5" fill="none"/><path d="M9,719.8H1214" stroke="#ebebee" stroke-width="1" fill="none"/><path d="M9,719.8H1214" stroke="#85878f" stroke-width="1" stroke-dasharray="5.1 5" fill="none"/><path d="M5.5,632.0 L10.4,628.3 L15.4,619.4 L20.3,615.9 L25.2,634.9 L30.2,645.2 L35.1,665.3 L40.1,680.4 L45.0,665.7 L49.9,677.5 L54.9,686.8 L59.8,682.2 L64.7,692.1 L69.7,693.5 L74.6,665.0 L79.5,654.3 L84.5,649.5 L89.4,656.6 L94.4,648.7 L99.3,649.7 L104.2,654.7 L109.2,648.3 L114.1,666.6 L119.0,636.4 L124.0,619.5 L128.9,618.6 L133.9,627.0 L138.8,613.4 L143.7,635.8 L148.7,624.4 L153.6,653.3 L158.5,624.9 L163.5,620.1 L168.4,611.2 L173.4,604.9 L178.3,636.2 L183.2,639.0 L188.2,681.1 L193.1,659.1 L198.0,674.5 L203.0,679.2 L207.9,687.2 L212.8,671.7 L217.8,671.4 L222.7,657.9 L227.7,666.3 L232.6,674.8 L237.5,681.1 L242.5,669.2 L247.4,659.5 L252.3,659.8 L257.3,658.6 L262.2,652.2 L267.2,663.6 L272.1,667.5 L277.0,665.6 L282.0,674.2 L286.9,673.0 L291.8,668.8 L296.8,677.4 L301.7,685.1 L306.7,680.6 L311.6,672.9 L316.5,670.5 L321.5,673.4 L326.4,680.1 L331.3,680.6 L336.3,687.0 L341.2,690.9 L346.1,684.7 L351.1,708.3 L356.0,709.8 L361.0,695.3 L365.9,680.4 L370.8,691.3 L375.8,690.0 L380.7,679.4 L385.6,680.9 L390.6,674.5 L395.5,672.5 L400.5,679.8 L405.4,670.2 L410.3,668.8 L415.3,660.6 L420.2,670.0 L425.1,667.0 L430.1,669.3 L435.0,681.8 L439.9,677.5 L444.9,679.8 L449.8,677.0 L454.8,683.6 L459.7,691.4 L464.6,692.1 L469.6,698.4 L474.5,706.4 L479.4,705.1 L484.4,703.7 L489.3,713.6 L494.3,722.8 L499.2,689.9 L504.1,687.7 L509.1,682.0 L514.0,675.3 L518.9,677.3 L523.9,670.3 L528.8,664.6 L533.8,662.3 L538.7,663.6 L543.6,656.1 L548.6,653.7 L553.5,656.8 L558.4,656.8 L563.4,639.9 L568.3,639.9 L573.2,636.1 L578.2,631.2 L583.1,615.4 L588.1,636.8 L593.0,625.7 L597.9,596.9 L602.9,586.9 L607.8,584.2 L612.7,569.1 L617.7,567.4 L622.6,573.6 L627.6,597.7 L632.5,626.9 L637.4,611.8 L642.4,593.6 L647.3,592.8 L652.2,596.7 L657.2,585.2 L662.1,578.5 L667.1,606.1 L672.0,604.8 L676.9,630.5 L681.9,610.1 L686.8,620.3 L691.7,619.9 L696.7,632.7 L701.6,630.5 L706.5,624.8 L711.5,620.0 L716.4,619.7 L721.4,634.9 L726.3,630.1 L731.2,638.1 L736.2,668.9 L741.1,672.6 L746.0,668.1 L751.0,679.4 L755.9,658.4 L760.9,662.8 L765.8,677.3 L770.7,677.7 L775.7,668.2 L780.6,675.2 L785.5,681.0 L790.5,678.6 L795.4,686.5 L800.4,701.4 L805.3,707.7 L810.2,679.7 L815.2,673.5 L820.1,678.0 L825.0,675.3 L830.0,683.2 L834.9,689.5 L839.8,696.7 L844.8,692.8 L849.7,686.8 L854.7,671.4 L859.6,672.8 L864.5,671.7 L869.5,678.8 L874.4,673.0 L879.3,676.2 L884.3,667.2 L889.2,671.9 L894.2,668.1 L899.1,678.5 L904.0,680.9 L909.0,687.4 L913.9,675.4 L918.8,678.0 L923.8,670.5 L928.7,676.8 L933.6,680.3 L938.6,685.2 L943.5,687.3 L948.5,671.1 L953.4,680.3 L958.3,675.8 L963.3,674.9 L968.2,682.4 L973.1,677.3 L978.1,679.1 L983.0,712.9 L988.0,695.3 L992.9,690.7 L997.8,698.8 L1002.8,696.8 L1007.7,698.8 L1012.6,693.3 L1017.6,674.3 L1022.5,686.7 L1027.5,688.2 L1032.4,681.0 L1037.3,677.9 L1042.3,657.5 L1047.2,635.8 L1052.1,667.1 L1057.1,669.2 L1062.0,675.0 L1066.9,673.3 L1071.9,675.7 L1076.8,679.7 L1081.8,700.3 L1086.7,699.3 L1091.6,711.0 L1096.6,693.2 L1101.5,683.4 L1106.4,694.9 L1111.4,702.9 L1116.3,705.7 L1121.3,715.1 L1126.2,711.9 L1131.1,726.3 L1136.1,724.1 L1141.0,712.4 L1145.9,710.2 L1150.9,716.2 L1155.8,716.7 L1160.8,679.6 L1165.7,695.2" stroke="#7e57c2" stroke-width="2" fill="none" stroke-linejoin="round"/></g><path d="M1214.5,25V762M9,559.5H1270M9,736.5H1270" stroke="#68696e" stroke-width="1" fill="none"/><text x="1222.90" y="34.10" font-size="10.5" fill="#505050" font-weight="normal" textLength="25.60" lengthAdjust="spacingAndGlyphs" font-family="Liberation Sans, sans-serif" style="font-stretch:condensed;" >3.200</text><text x="1222.90" y="76.85" font-size="10.5" fill="#505050" font-weight="normal" textLength="25.60" lengthAdjust="spacingAndGlyphs" font-family="Liberation Sans, sans-serif" style="font-stretch:condensed;" >3.000</text><text x="1222.90" y="119.60" font-size="10.5" fill="#505050" font-weight="normal" textLength="25.60" lengthAdjust="spacingAndGlyphs" font-family="Liberation Sans, sans-serif" style="font-stretch:condensed;" >2.800</text><text x="1222.90" y="162.35" font-size="10.5" fill="#505050" font-weight="normal" textLength="25.60" lengthAdjust="spacingAndGlyphs" font-family="Liberation Sans, sans-serif" style="font-stretch:condensed;" >2.600</text><text x="1222.90" y="205.10" font-size="10.5" fill="#505050" font-weight="normal" textLength="25.60" lengthAdjust="spacingAndGlyphs" font-family="Liberation Sans, sans-serif" style="font-stretch:condensed;" >2.400</text><text x="1222.90" y="247.85" font-size="10.5" fill="#505050" font-weight="normal" textLength="25.60" lengthAdjust="spacingAndGlyphs" font-family="Liberation Sans, sans-serif" style="font-stretch:condensed;" >2.200</text><text x="1222.90" y="290.60" font-size="10.5" fill="#505050" font-weight="normal" textLength="25.60" lengthAdjust="spacingAndGlyphs" font-family="Liberation Sans, sans-serif" style="font-stretch:condensed;" >2.000</text><text x="1222.90" y="333.35" font-size="10.5" fill="#505050" font-weight="normal" textLength="25.60" lengthAdjust="spacingAndGlyphs" font-family="Liberation Sans, sans-serif" style="font-stretch:condensed;" >1.800</text><text x="1222.90" y="376.10" font-size="10.5" fill="#505050" font-weight="normal" textLength="25.60" lengthAdjust="spacingAndGlyphs" font-family="Liberation Sans, sans-serif" style="font-stretch:condensed;" >1.600</text><text x="1222.90" y="418.85" font-size="10.5" fill="#505050" font-weight="normal" textLength="25.60" lengthAdjust="spacingAndGlyphs" font-family="Liberation Sans, sans-serif" style="font-stretch:condensed;" >1.400</text><text x="1222.90" y="461.60" font-size="10.5" fill="#505050" font-weight="normal" textLength="25.60" lengthAdjust="spacingAndGlyphs" font-family="Liberation Sans, sans-serif" style="font-stretch:condensed;" >1.200</text><text x="1222.90" y="504.35" font-size="10.5" fill="#505050" font-weight="normal" textLength="25.60" lengthAdjust="spacingAndGlyphs" font-family="Liberation Sans, sans-serif" style="font-stretch:condensed;" >1.000</text><text x="1222.90" y="547.10" font-size="10.5" fill="#505050" font-weight="normal" textLength="25.60" lengthAdjust="spacingAndGlyphs" font-family="Liberation Sans, sans-serif" style="font-stretch:condensed;" >0.800</text><text x="1222.70" y="568.90" font-size="10.5" fill="#505050" font-weight="normal" textLength="25.50" lengthAdjust="spacingAndGlyphs" font-family="Liberation Sans, sans-serif" style="font-stretch:condensed;" >90.00</text><text x="1222.70" y="620.90" font-size="10.5" fill="#505050" font-weight="normal" textLength="25.50" lengthAdjust="spacingAndGlyphs" font-family="Liberation Sans, sans-serif" style="font-stretch:condensed;" >70.00</text><text x="1222.70" y="671.90" font-size="10.5" fill="#505050" font-weight="normal" textLength="25.50" lengthAdjust="spacingAndGlyphs" font-family="Liberation Sans, sans-serif" style="font-stretch:condensed;" >50.00</text><text x="1222.70" y="723.20" font-size="10.5" fill="#505050" font-weight="normal" textLength="25.50" lengthAdjust="spacingAndGlyphs" font-family="Liberation Sans, sans-serif" style="font-stretch:condensed;" >30.00</text><text x="15.00" y="751.80" font-size="10.5" fill="#505050" font-weight="normal" textLength="11.00" lengthAdjust="spacingAndGlyphs" font-family="Liberation Sans, sans-serif" style="font-stretch:condensed;" >15</text><text x="90.40" y="751.80" font-size="10.5" fill="#505050" font-weight="normal" textLength="18.20" lengthAdjust="spacingAndGlyphs" font-family="Liberation Sans, sans-serif" style="font-stretch:condensed;" >May</text><text x="172.50" y="751.80" font-size="10.5" fill="#505050" font-weight="normal" textLength="12.00" lengthAdjust="spacingAndGlyphs" font-family="Liberation Sans, sans-serif" style="font-stretch:condensed;" >17</text><text x="243.25" y="751.80" font-size="10.5" fill="#505050" font-weight="normal" textLength="18.50" lengthAdjust="spacingAndGlyphs" font-family="Liberation Sans, sans-serif" style="font-stretch:condensed;" >Jun</text><text x="316.00" y="751.80" font-size="10.5" fill="#505050" font-weight="normal" textLength="11.00" lengthAdjust="spacingAndGlyphs" font-family="Liberation Sans, sans-serif" style="font-stretch:condensed;" >15</text><text x="392.70" y="751.80" font-size="10.5" fill="#505050" font-weight="normal" textLength="15.60" lengthAdjust="spacingAndGlyphs" font-family="Liberation Sans, sans-serif" style="font-stretch:condensed;" >Jul</text><text x="464.00" y="751.80" font-size="10.5" fill="#505050" font-weight="normal" textLength="11.00" lengthAdjust="spacingAndGlyphs" font-family="Liberation Sans, sans-serif" style="font-stretch:condensed;" >15</text><text x="543.85" y="751.80" font-size="10.5" fill="#505050" font-weight="normal" textLength="19.30" lengthAdjust="spacingAndGlyphs" font-family="Liberation Sans, sans-serif" style="font-stretch:condensed;" >Aug</text><text x="621.50" y="751.80" font-size="10.5" fill="#505050" font-weight="normal" textLength="12.00" lengthAdjust="spacingAndGlyphs" font-family="Liberation Sans, sans-serif" style="font-stretch:condensed;" >16</text><text x="697.35" y="751.80" font-size="10.5" fill="#505050" font-weight="normal" textLength="18.30" lengthAdjust="spacingAndGlyphs" font-family="Liberation Sans, sans-serif" style="font-stretch:condensed;" >Sep</text><text x="770.00" y="751.80" font-size="10.5" fill="#505050" font-weight="normal" textLength="11.00" lengthAdjust="spacingAndGlyphs" font-family="Liberation Sans, sans-serif" style="font-stretch:condensed;" >15</text><text x="845.85" y="751.80" font-size="10.5" fill="#505050" font-weight="normal" textLength="17.30" lengthAdjust="spacingAndGlyphs" font-family="Liberation Sans, sans-serif" style="font-stretch:condensed;" >Oct</text><text x="932.50" y="751.80" font-size="10.5" fill="#505050" font-weight="normal" textLength="12.00" lengthAdjust="spacingAndGlyphs" font-family="Liberation Sans, sans-serif" style="font-stretch:condensed;" >18</text><text x="998.10" y="751.80" font-size="10.5" fill="#505050" font-weight="normal" textLength="18.80" lengthAdjust="spacingAndGlyphs" font-family="Liberation Sans, sans-serif" style="font-stretch:condensed;" >Nov</text><text x="1071.00" y="751.80" font-size="10.5" fill="#505050" font-weight="normal" textLength="11.00" lengthAdjust="spacingAndGlyphs" font-family="Liberation Sans, sans-serif" style="font-stretch:condensed;" >15</text><text x="1146.10" y="751.80" font-size="10.5" fill="#505050" font-weight="normal" textLength="18.80" lengthAdjust="spacingAndGlyphs" font-family="Liberation Sans, sans-serif" style="font-stretch:condensed;" >Dec</text><rect x="1214" y="71.5" width="39.09999999999991" height="15.200000000000003" fill="#0000ff" rx="2"/><rect x="1214" y="71.5" width="3" height="15.200000000000003" fill="#0000ff"/><text x="1223.30" y="83.20" font-size="10" fill="#fff" font-weight="bold" textLength="24.90" lengthAdjust="spacingAndGlyphs" font-family="Liberation Sans, sans-serif" style="font-stretch:condensed;" >2.972</text><rect x="1214" y="179" width="39.09999999999991" height="15" fill="#0000ff" rx="2"/><rect x="1214" y="179" width="3" height="15" fill="#0000ff"/><text x="1223.30" y="190.60" font-size="10" fill="#fff" font-weight="bold" textLength="24.90" lengthAdjust="spacingAndGlyphs" font-family="Liberation Sans, sans-serif" style="font-stretch:condensed;" >2.470</text><rect x="1190.1" y="241" width="22.90000000000009" height="15.199999999999989" fill="#00796b" rx="2"/><rect x="1210" y="241" width="3" height="15.199999999999989" fill="#00796b"/><text x="1193.60" y="252.70" font-size="10" fill="#fff" font-weight="bold" textLength="14.60" lengthAdjust="spacingAndGlyphs" font-family="Liberation Sans, sans-serif" style="font-stretch:condensed;" >MA</text><rect x="1214" y="241" width="39.09999999999991" height="15.199999999999989" fill="#00796b" rx="2"/><rect x="1214" y="241" width="3" height="15.199999999999989" fill="#00796b"/><text x="1223.30" y="252.70" font-size="10" fill="#fff" font-weight="bold" textLength="24.90" lengthAdjust="spacingAndGlyphs" font-family="Liberation Sans, sans-serif" style="font-stretch:condensed;" >2.178</text><rect x="1190.1" y="292" width="22.90000000000009" height="15.199999999999989" fill="#f44336" rx="2"/><rect x="1210" y="292" width="3" height="15.199999999999989" fill="#f44336"/><text x="1193.60" y="303.70" font-size="10" fill="#fff" font-weight="bold" textLength="14.60" lengthAdjust="spacingAndGlyphs" font-family="Liberation Sans, sans-serif" style="font-stretch:condensed;" >MA</text><rect x="1214" y="292" width="39.09999999999991" height="15.199999999999989" fill="#f44336" rx="2"/><rect x="1214" y="292" width="3" height="15.199999999999989" fill="#f44336"/><text x="1223.30" y="303.70" font-size="10" fill="#fff" font-weight="bold" textLength="24.90" lengthAdjust="spacingAndGlyphs" font-family="Liberation Sans, sans-serif" style="font-stretch:condensed;" >1.942</text><rect x="1214" y="307.8" width="39.09999999999991" height="15.0" fill="#0000ff" rx="2"/><rect x="1214" y="307.8" width="3" height="15.0" fill="#0000ff"/><text x="1223.30" y="319.40" font-size="10" fill="#fff" font-weight="bold" textLength="24.90" lengthAdjust="spacingAndGlyphs" font-family="Liberation Sans, sans-serif" style="font-stretch:condensed;" >1.870</text><rect x="1185" y="338" width="28" height="14.800000000000011" fill="#1a3b9e" rx="2"/><rect x="1210" y="338" width="3" height="14.800000000000011" fill="#1a3b9e"/><text x="1188.60" y="349.50" font-size="10" fill="#fff" font-weight="bold" textLength="19.10" lengthAdjust="spacingAndGlyphs" font-family="Liberation Sans, sans-serif" style="font-stretch:condensed;" >EMA</text><rect x="1214" y="338" width="39.09999999999991" height="14.800000000000011" fill="#1a3b9e" rx="2"/><rect x="1214" y="338" width="3" height="14.800000000000011" fill="#1a3b9e"/><text x="1223.30" y="349.50" font-size="10" fill="#fff" font-weight="bold" textLength="24.90" lengthAdjust="spacingAndGlyphs" font-family="Liberation Sans, sans-serif" style="font-stretch:condensed;" >1.725</text><rect x="1214" y="364.7" width="52.59999999999991" height="26.80000000000001" fill="#d9553f" rx="2"/><rect x="1214" y="364.7" width="3" height="26.8" fill="#d9553f"/><text x="1223.30" y="376.20" font-size="10" fill="#fff" font-weight="bold" textLength="24.60" lengthAdjust="spacingAndGlyphs" font-family="Liberation Sans, sans-serif" style="font-stretch:condensed;" >1.602</text><text x="1222.80" y="388.60" font-size="10" fill="#fff" font-weight="normal" textLength="39.30" lengthAdjust="spacingAndGlyphs" font-family="Liberation Sans, sans-serif" style="font-stretch:condensed;" >05:27:45</text><rect x="1214" y="493.3" width="39.09999999999991" height="15.0" fill="#0000ff" rx="2"/><rect x="1214" y="493.3" width="3" height="15.0" fill="#0000ff"/><text x="1223.30" y="504.90" font-size="10" fill="#fff" font-weight="bold" textLength="24.90" lengthAdjust="spacingAndGlyphs" font-family="Liberation Sans, sans-serif" style="font-stretch:condensed;" >1.000</text><rect x="1190" y="688.6" width="23" height="15.100000000000023" fill="#7e57c2" rx="2"/><rect x="1210" y="688.6" width="3" height="15.100000000000023" fill="#7e57c2"/><text x="1193.60" y="700.25" font-size="10" fill="#fff" font-weight="bold" textLength="12.80" lengthAdjust="spacingAndGlyphs" font-family="Liberation Sans, sans-serif" style="font-stretch:condensed;" >RSI</text><rect x="1214" y="688.6" width="39.09999999999991" height="15.100000000000023" fill="#7e57c2" rx="2"/><rect x="1214" y="688.6" width="3" height="15.100000000000023" fill="#7e57c2"/><text x="1223.30" y="700.25" font-size="10" fill="#fff" font-weight="bold" textLength="24.90" lengthAdjust="spacingAndGlyphs" font-family="Liberation Sans, sans-serif" style="font-stretch:condensed;" >39.34</text><rect x="1228.5" y="30.8" width="27.8" height="15.8" rx="3.5" fill="#fff" stroke="#e0e3eb"/><text x="1230.50" y="41.90" font-size="10" fill="#555" font-weight="normal" textLength="23.60" lengthAdjust="spacingAndGlyphs" font-family="Liberation Sans, sans-serif" style="font-stretch:condensed;" >USDT</text><text x="16.30" y="42.20" font-size="11" fill="#5b5b5b" font-weight="normal" textLength="167.00" lengthAdjust="spacingAndGlyphs" font-family="Liberation Sans, sans-serif" style="font-stretch:condensed;" >Cardano / TetherUS, 1D, BINANCE</text><text x="189.80" y="42.2" font-size="11" textLength="34.90" lengthAdjust="spacingAndGlyphs" font-family="Liberation Sans, sans-serif" style="font-stretch:condensed" fill="#5b5b5b">O<tspan fill="#8e3a2d">1.720</tspan></text><text x="230.80" y="42.2" font-size="11" textLength="34.50" lengthAdjust="spacingAndGlyphs" font-family="Liberation Sans, sans-serif" style="font-stretch:condensed" fill="#5b5b5b">H<tspan fill="#8e3a2d">1.729</tspan></text><text x="272.00" y="42.2" font-size="11" textLength="32.30" lengthAdjust="spacingAndGlyphs" font-family="Liberation Sans, sans-serif" style="font-stretch:condensed" fill="#5b5b5b">L<tspan fill="#8e3a2d">1.575</tspan></text><text x="311.20" y="42.2" font-size="11" textLength="33.70" lengthAdjust="spacingAndGlyphs" font-family="Liberation Sans, sans-serif" style="font-stretch:condensed" fill="#5b5b5b">C<tspan fill="#8e3a2d">1.602</tspan></text><text x="352.30" y="42.20" font-size="11" fill="#8e3a2d" font-weight="normal" textLength="77.50" lengthAdjust="spacingAndGlyphs" font-family="Liberation Sans, sans-serif" style="font-stretch:condensed;" >−0.117 (−6.81%)</text><text x="16.30" y="57.90" font-size="11" fill="#5b5b5b" font-weight="normal" textLength="82.90" lengthAdjust="spacingAndGlyphs" font-family="Liberation Sans, sans-serif" style="font-stretch:condensed;" >MA (50, close, 0)</text><text x="106.10" y="57.90" font-size="11" fill="#f44336" font-weight="normal" textLength="27.20" lengthAdjust="spacingAndGlyphs" font-family="Liberation Sans, sans-serif" style="font-stretch:condensed;" >1.942</text><text x="16.50" y="73.20" font-size="11" fill="#5b5b5b" font-weight="normal" textLength="88.40" lengthAdjust="spacingAndGlyphs" font-family="Liberation Sans, sans-serif" style="font-stretch:condensed;" >EMA (20, close, 0)</text><text x="112.70" y="73.20" font-size="11" fill="#3452b4" font-weight="normal" textLength="25.90" lengthAdjust="spacingAndGlyphs" font-family="Liberation Sans, sans-serif" style="font-stretch:condensed;" >1.725</text><text x="16.50" y="87.90" font-size="11" fill="#5b5b5b" font-weight="normal" textLength="88.40" lengthAdjust="spacingAndGlyphs" font-family="Liberation Sans, sans-serif" style="font-stretch:condensed;" >MA (100, close, 0)</text><text x="111.70" y="87.90" font-size="11" fill="#1b8a72" font-weight="normal" textLength="26.90" lengthAdjust="spacingAndGlyphs" font-family="Liberation Sans, sans-serif" style="font-stretch:condensed;" >2.178</text><text x="16.00" y="577.30" font-size="11" fill="#5b5b5b" font-weight="normal" textLength="70.60" lengthAdjust="spacingAndGlyphs" font-family="Liberation Sans, sans-serif" style="font-stretch:condensed;" >RSI (14, close)</text><text x="93.30" y="577.30" font-size="11" fill="#7e57c2" font-weight="normal" textLength="27.80" lengthAdjust="spacingAndGlyphs" font-family="Liberation Sans, sans-serif" style="font-stretch:condensed;" >39.34</text><text x="9.2" y="17.1" font-size="11" fill="#474747" textLength="331.6" lengthAdjust="spacingAndGlyphs" font-family="DejaVu Sans, sans-serif" style="font-stretch:condensed">ranadagger published on TradingView.com, Dec 03, 2021 18:32 UTC</text><path d="M9.1,773H16.1V781.6H13.1V776.2H9.1Z" fill="#151722"/><circle cx="19.3" cy="774.9" r="1.55" fill="#151722"/><path d="M23.2,773H27L23.7,781.6H19.5Z" fill="#151722"/><text x="30.20" y="781.60" font-size="11" fill="#3a3d46" font-weight="normal" textLength="65.00" lengthAdjust="spacingAndGlyphs" font-family="Liberation Sans, sans-serif" style="font-stretch:condensed;" >TradingView</text></svg>
</body></html>
